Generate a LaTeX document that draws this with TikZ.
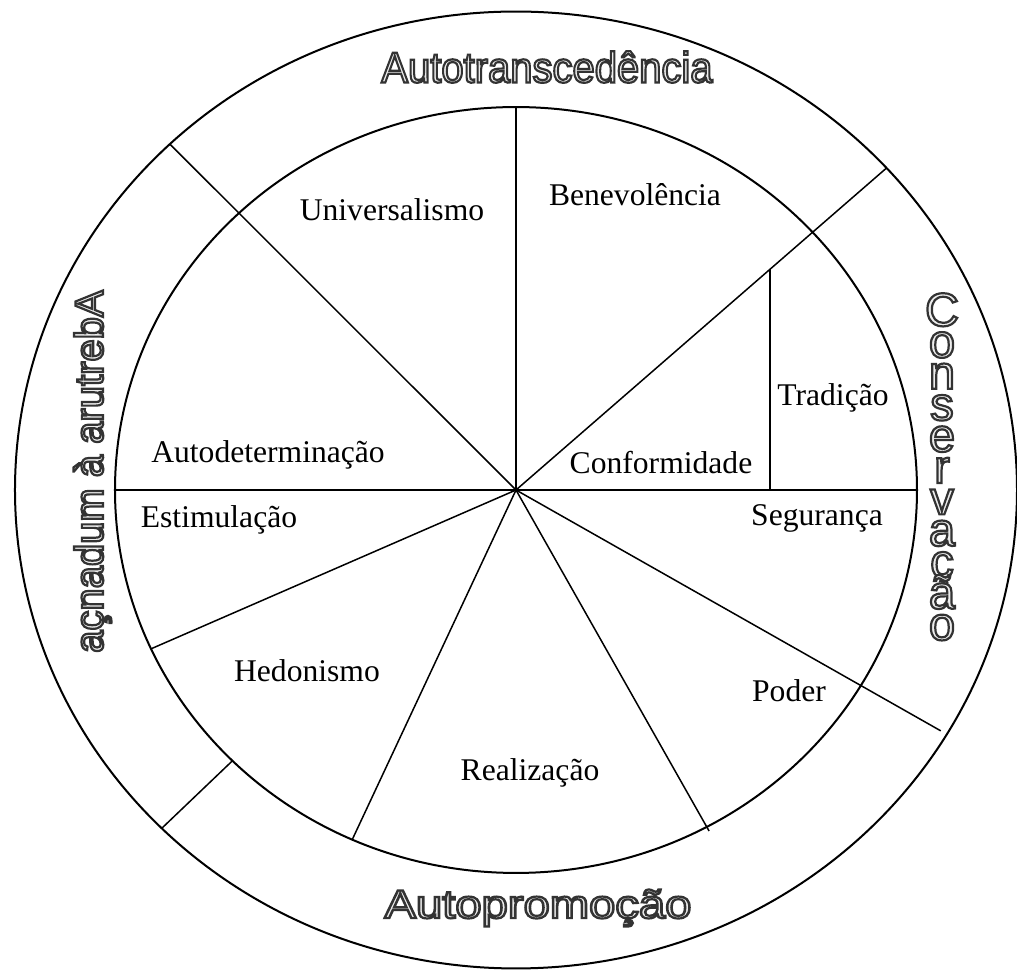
\documentclass[tikz,border=0pt]{standalone}
\usepackage{fontspec}
\usepackage{graphicx}
\setmainfont{Liberation Serif}
\newfontfamily\artfont{Liberation Sans}
\tikzset{
	ring/.style={draw,line width=1pt},
	spoke/.style={draw,line width=0.75pt},
	value/.style={font=\fontsize{15.8}{19}\selectfont,inner sep=0pt},
	pole/.style={font=\artfont\fontsize{20}{24}\selectfont,inner sep=0pt},
	letter/.style={font=\artfont\fontsize{23.5}{26}\selectfont,inner sep=0pt,anchor=base}
}
\newcommand{\hollow}[1]{\special{pdf:literal direct 2 Tr 1.1 w 0.93 g 0.2 G}#1\special{pdf:literal direct 0 Tr 0 g 0 G}}
\newcommand{\turn}[1]{\rotatebox[origin=cB]{180}{\hollow{#1}}}

\begin{document}
\begin{tikzpicture}[x=0.5pt,y=0.5pt]
	\useasboundingbox (-516,-482) rectangle (501,490);
	\coordinate (O) at (0,0);
	\begin{scope}[yscale=0.955]
		\draw[ring] (O) circle (401);
		\draw[ring] (O) circle (501);
		\foreach \a/\r [count=\i] in {90/401,42.3/501,133.7/501,0/401,180/401,204.5/401,245.9/401,298.4/406,329.3/494}{
			\coordinate (s\i) at (\a:\r);
			\draw[spoke] (O) -- (s\i);
		}
		\coordinate (g1) at (225:401);
		\coordinate (g2) at (225:501);
		\draw[spoke] (g1) -- (g2);
		\coordinate (t1) at (254,0);
		\coordinate (t2) at (254,{254*tan(42.3)});
		\draw[spoke] (t1) -- (t2);
	\end{scope}

	\node[value] (univ) at (-124,280) {Universalismo};
	\node[value] (bene) at (119,295) {Benevolência};
	\node[value] (auto) at (-248,35) {Autodeterminação};
	\node[value] (trad) at (317,92) {Tradição};
	\node[value] (conf) at (145,27) {Conformidade};
	\node[value] (segu) at (301,-28) {Segurança};
	\node[value] (esti) at (-297,-30) {Estimulação};
	\node[value] (hedo) at (-209,-181) {Hedonismo};
	\node[value] (pode) at (273,-201) {Poder};
	\node[value] (real) at (14,-283) {Realização};

	\node[pole,font=\artfont\fontsize{21.5}{24}\selectfont,xscale=0.93] (top) at (31,423) {\hollow{Autotranscedência}};
	\node[pole,xscale=1.18] (bottom) at (22,-418) {\hollow{Autopromoção}};
	\node[pole,rotate=-90,anchor=base west] (left) at (-413,200)
		{\turn{A}\turn{b}\turn{e}\turn{r}\turn{t}\turn{u}\turn{r}\turn{a} \turn{à} \turn{m}\turn{u}\turn{d}\turn{a}\turn{n}\turn{ç}\turn{a}};
	\foreach \ch [count=\i from 0] in {C,o,n,s,e,r,v,a,ç,ã,o}
		\node[letter] (c\i) at (426,{164-\i*31.4}) {\hollow{\ch}};
\end{tikzpicture}
\end{document}
